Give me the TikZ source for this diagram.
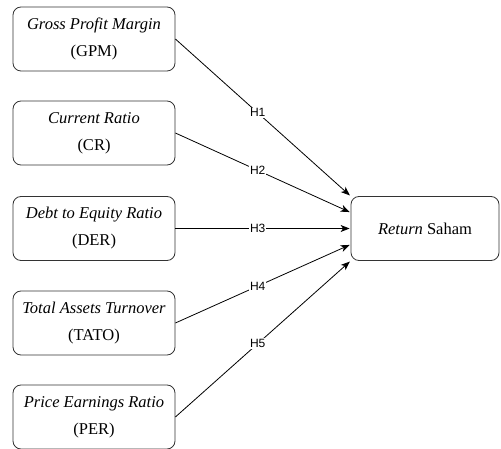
\documentclass[tikz,border=0pt]{standalone}
\usepackage{fontspec}
\setmainfont{Liberation Serif}
\setsansfont{Liberation Sans}
\usetikzlibrary{arrows.meta}

\begin{document}
\begin{tikzpicture}[x=1pt,y=-1pt,->,>={Stealth[length=9pt,width=7pt,inset=2.5pt]},shorten >=1pt,line width=0.8pt,
				var node/.style={draw=black!80,rounded corners=8pt,minimum width=162pt,minimum height=64pt,
				align=center,font=\fontsize{16.5}{27}\selectfont}]
				
				\useasboundingbox (0,0) rectangle (501,449);
				
				\node[var node] (gpm) at (94,39) {\textit{Gross Profit Margin}\\(GPM)};
				\node[var node] (cr) at (94,133) {\textit{Current Ratio}\\(CR)};
				\node[var node] (der) at (94,228.5) {\textit{Debt to Equity Ratio}\\(DER)};
				\node[var node] (tato) at (94,323) {\textit{Total Assets Turnover}\\(TATO)};
				\node[var node] (per) at (94,417) {\textit{Price Earnings Ratio}\\(PER)};
				\node[var node,minimum width=148pt] (rs) at (425,228.5) {\textit{Return} Saham};
				
				\path[every node/.style={font=\sffamily\fontsize{12}{14}\selectfont,fill=white,inner sep=1pt,pos=0.47}]
				
				(gpm.east) edge node {H1} (rs.north west)
				(cr.east) edge node {H2} ([yshift=16pt]rs.west)
				(der.east) edge node {H3} (rs.west)
				(tato.east) edge node {H4} ([yshift=-16pt]rs.west)
				(per.east) edge node {H5} (rs.south west);
				
				\end{tikzpicture}
\end{document}
